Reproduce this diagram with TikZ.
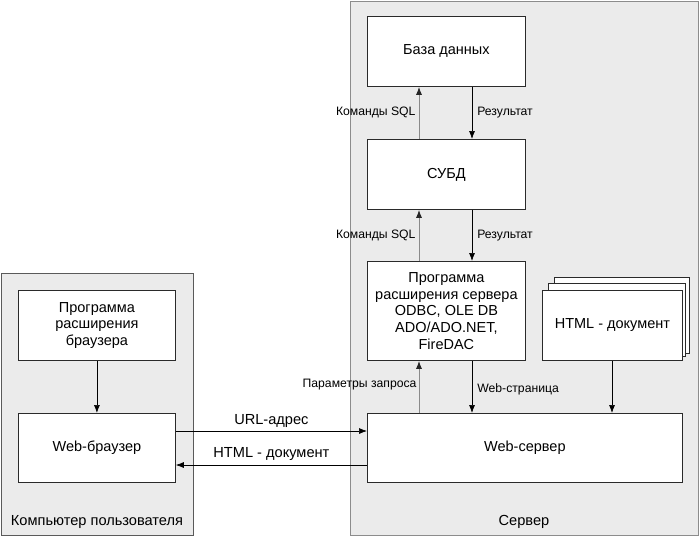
\documentclass[tikz,border=0pt]{standalone}
\usepackage{fontspec}
\setmainfont{Liberation Sans}
\usetikzlibrary{arrows.meta}
\definecolor{contfill}{HTML}{EBEBEB}
\definecolor{contdraw}{HTML}{5A5A5A}
\definecolor{servdraw}{HTML}{8C8C8C}
\definecolor{boxdraw}{HTML}{2A2A2A}
\definecolor{upline}{HTML}{8A8A8A}
\begin{document}
\begin{tikzpicture}[x=1pt,y=-1pt,
  container/.style={draw=contdraw, fill=contfill, line width=0.9pt},
  blk/.style={draw=boxdraw, fill=white, line width=0.8pt, inner sep=0pt, align=center, font=\fontsize{14.5}{16.6}\selectfont},
  lbl/.style={font=\fontsize{12.2}{14}\selectfont, inner sep=1pt},
  captxt/.style={font=\fontsize{14.6}{16}\selectfont, inner sep=0pt},
  downarr/.style={-{Latex[length=8pt,width=6pt]}, draw=black, line width=0.7pt},
  uparr/.style={draw=upline, line width=1pt, -{Latex[length=8pt,width=6pt,color=black!85]}}]
\useasboundingbox (0,0) rectangle (700,536);
% containers
\node[container, minimum width=192pt, minimum height=262pt, anchor=north west, inner sep=0pt] (client) at (1,273) {};
\node[container, draw=servdraw, minimum width=348pt, minimum height=534pt, anchor=north west, inner sep=0pt] (server) at (350,1) {};
\node[captxt] (clientcap) at (97,522) {Компьютер пользователя};
\node[captxt] (servercap) at (524,522) {Сервер};
% server boxes
\node[blk, minimum width=158pt, minimum height=70pt, anchor=north west] (db) at (367,16) {База данных};
\node[blk, minimum width=158pt, minimum height=70pt, anchor=north west] (dbms) at (367,139) {СУБД};
\node[blk, minimum width=158pt, minimum height=99pt, anchor=north west] (ext) at (367,261) {Программа\\расширения сервера\\ODBC, OLE DB\\ADO/ADO.NET,\\FireDAC};
\node[blk, minimum width=135pt, minimum height=76pt, anchor=north west] (doc3) at (554,277) {};
\node[blk, minimum width=137pt, minimum height=73pt, anchor=north west] (doc2) at (548,283) {};
\node[blk, minimum width=140pt, minimum height=70pt, anchor=north west] (doc) at (542,290) {HTML - документ};
\node[blk, minimum width=315pt, minimum height=69pt, anchor=north west] (web) at (367,413) {Web-сервер};
% client boxes
\node[blk, minimum width=157pt, minimum height=70pt, anchor=north west] (bext) at (18,290) {Программа\\расширения\\браузера};
\node[blk, minimum width=157pt, minimum height=69pt, anchor=north west] (browser) at (18,413) {Web-браузер};
% vertical connectors
\draw[uparr] (dbms.north -| 419,0) -- (db.south -| 419,0) node[lbl, midway, left=2pt] (sql1) {Команды SQL};
\draw[downarr] (db.south -| 472,0) -- (dbms.north -| 472,0) node[lbl, midway, right=4pt] (res1) {Результат};
\draw[uparr] (ext.north -| 419,0) -- (dbms.south -| 419,0) node[lbl, midway, left=2pt] (sql2) {Команды SQL};
\draw[downarr] (dbms.south -| 472,0) -- (ext.north -| 472,0) node[lbl, midway, right=4pt] (res2) {Результат};
\draw[uparr] (web.north -| 419,0) -- (ext.south -| 419,0) node[lbl, pos=0.55, left=1pt] (par) {Параметры запроса};
\draw[downarr] (ext.south -| 472,0) -- (web.north -| 472,0) node[lbl, pos=0.55, right=4pt] (page) {Web-страница};
\draw[downarr] (doc.south -| 612,0) -- (web.north -| 612,0);
\draw[downarr] (bext) -- (browser);
% horizontal connectors
\draw[downarr] (browser.east |- 0,431) -- (web.west |- 0,431) node[midway, above=3pt, captxt] (url) {URL-адрес};
\draw[downarr] (web.west |- 0,465) -- (browser.east |- 0,465) node[midway, above=4pt, captxt] (html) {HTML - документ};
\end{tikzpicture}
\end{document}
